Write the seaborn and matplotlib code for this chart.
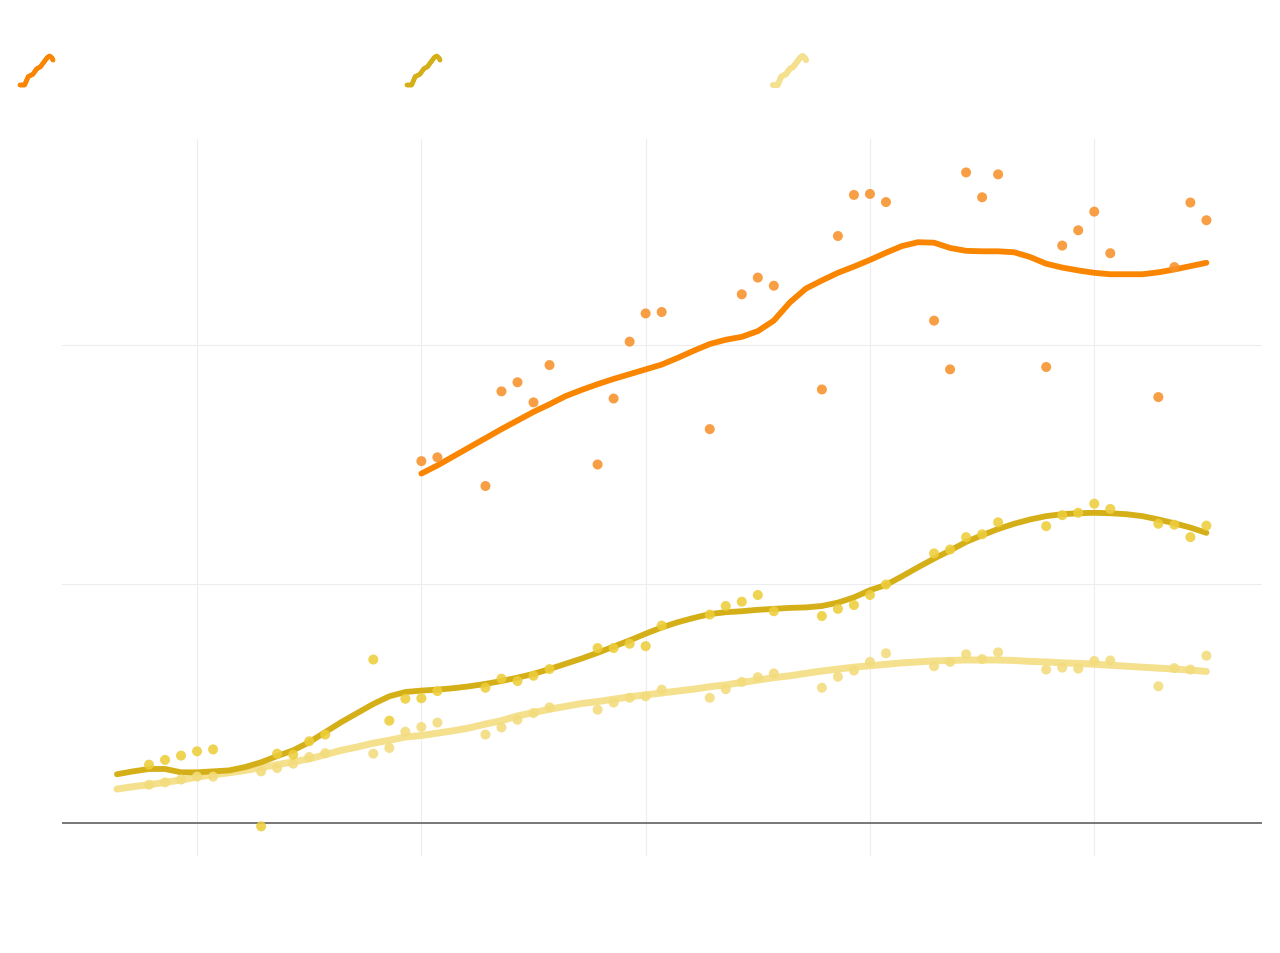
import numpy as np
import pandas as pd
import matplotlib
matplotlib.use("Agg")
import matplotlib.pyplot as plt
import seaborn as sns
from matplotlib.lines import Line2D
from matplotlib.legend_handler import HandlerBase

nan = np.nan

# ---- data (day index, daily; weekends missing for point series) ----
days = list(range(69))

orange_points = [nan] * 19 + [
    75.6, 76.4, nan, nan, 70.4, 90.2, 92.1, 87.9, 95.7, nan, nan,
    74.9, 88.7, 100.6, 106.5, 106.8, nan, nan, 82.3, nan, 110.5, 114.0, 112.3,
    nan, nan, 90.6, 122.7, 131.3, 131.5, 129.8, nan, nan, 105.0, 94.8, 136.0,
    130.8, 135.6, nan, nan, 95.3, 120.7, 123.9, 127.8, 119.1, nan, nan, 89.0,
    116.2, 129.7, 126.0]

gold_points = [
    nan, nan, 12.1, 13.1, 14.0, 14.9, 15.3, nan, nan, -0.8, 14.4, 14.2, 17.0,
    18.4, nan, nan, 34.1, 21.3, 25.9, 26.0, 27.5, nan, nan, 28.2, 30.1, 29.6,
    30.7, 32.1, nan, nan, 36.5, 36.5, 37.4, 36.9, 41.2, nan, nan, 43.5, 45.3,
    46.2, 47.6, 44.2, nan, nan, 43.2, 44.7, 45.5, 47.6, 49.8, nan, nan, 56.3,
    57.1, 59.7, 60.3, 62.8, nan, nan, 62.0, 64.3, 64.8, 66.7, 65.6, nan, nan,
    62.5, 62.3, 59.7, 62.1]

light_points = [
    nan, nan, 7.9, 8.4, 9.0, 9.6, 9.6, nan, nan, 10.7, 11.4, 12.3, 13.7, 14.5,
    nan, nan, 14.4, 15.6, 19.0, 20.0, 20.9, nan, nan, 18.4, 19.9, 21.5, 22.9,
    24.1, nan, nan, 23.6, 25.1, 26.1, 26.4, 27.8, nan, nan, 26.1, 27.9, 29.4,
    30.4, 31.2, nan, nan, 28.2, 30.5, 31.8, 33.6, 35.4, nan, nan, 32.7, 33.6,
    35.2, 34.2, 35.6, nan, nan, 32.0, 32.4, 32.2, 33.8, 33.9, nan, nan, 28.5,
    32.3, 32.0, 34.9]

orange_trend = [nan] * 19 + [
    73.0, 74.7, 76.6, 78.5, 80.4, 82.3, 84.1, 85.9, 87.5, 89.2, 90.5, 91.7,
    92.8, 93.8, 94.8, 95.8, 97.2, 98.7, 100.1, 101.0, 101.6, 102.8, 105.0,
    108.8, 111.7, 113.4, 115.0, 116.3, 117.7, 119.2, 120.6, 121.4, 121.3,
    120.2, 119.6, 119.5, 119.5, 119.3, 118.3, 116.9, 116.1, 115.5, 115.0,
    114.7, 114.7, 114.7, 115.1, 115.7, 116.4, 117.1]

gold_trend = [
    10.1, 10.7, 11.2, 11.2, 10.5, 10.5, 10.7, 10.9, 11.6, 12.6, 13.9, 15.1,
    16.8, 18.9, 21.0, 22.9, 24.8, 26.4, 27.3, 27.6, 27.8, 28.1, 28.5, 29.0,
    29.6, 30.3, 31.1, 32.1, 33.2, 34.3, 35.5, 36.8, 38.1, 39.5, 40.8, 41.9,
    42.8, 43.6, 44.0, 44.2, 44.5, 44.7, 44.9, 45.0, 45.3, 46.0, 47.1, 48.6,
    49.7, 51.5, 53.4, 55.2, 56.9, 58.7, 60.1, 61.4, 62.5, 63.4, 64.1, 64.5,
    64.7, 64.8, 64.7, 64.5, 64.1, 63.4, 62.6, 61.7, 60.6]

light_trend = [
    7.0, 7.5, 7.9, 8.4, 8.9, 9.5, 10.0, 10.4, 10.9, 11.5, 12.1, 12.7, 13.3,
    14.2, 15.1, 15.8, 16.6, 17.2, 17.9, 18.2, 18.7, 19.2, 19.8, 20.6, 21.3,
    22.3, 23.0, 23.7, 24.3, 24.9, 25.3, 25.8, 26.3, 26.7, 27.1, 27.5, 27.9,
    28.4, 28.8, 29.3, 29.8, 30.3, 30.7, 31.2, 31.7, 32.1, 32.5, 32.8, 33.1,
    33.4, 33.6, 33.8, 33.9, 34.0, 34.0, 34.0, 33.9, 33.7, 33.6, 33.4, 33.3,
    33.1, 32.9, 32.7, 32.5, 32.3, 32.1, 31.9, 31.6]

x_grid = [5, 19, 33, 47, 61]
y_grid = [0, 50, 100]

# ---- styling ----
sns.set_theme(style="white")
W, H = 1280, 954
fig = plt.figure(figsize=(W / 100, H / 100), dpi=100)
fig.patch.set_facecolor("white")
ax = fig.add_axes([62 / W, 97.5 / H, 1200 / W, 717 / H])

df = pd.DataFrame({
    "day": days,
    "orange_points": orange_points, "gold_points": gold_points,
    "light_points": light_points, "orange_trend": orange_trend,
    "gold_trend": gold_trend, "light_trend": light_trend,
})

series = [
    ("light", "#F5E08E", "#F3DC7C", 5.0, 3.0),
    ("gold", "#D4AF18", "#EDCD3A", 4.2, 3.1),
    ("orange", "#F98500", "#F8922C", 4.2, 3.2),
]

for name, lc, pc, lw, z in series:
    sns.lineplot(data=df, x="day", y=f"{name}_trend", color=lc, lw=lw, ax=ax,
                 zorder=z, solid_capstyle="round")
for name, lc, pc, lw, z in series:
    sns.scatterplot(data=df, x="day", y=f"{name}_points", color=pc, s=52,
                    edgecolor="none", alpha=0.88, ax=ax, zorder=4)

ax.axhline(0, color="#555555", lw=1.1, zorder=1.5)

ax.set_xlim(-3.43, 71.47)
ax.set_ylim(-6.9, 143.1)
ax.set_xticks(x_grid)
ax.set_yticks(y_grid)
ax.set_xticklabels([])
ax.set_yticklabels([])
ax.tick_params(length=0)
ax.set_xlabel("")
ax.set_ylabel("")
ax.grid(True, color="#EDEDED", lw=0.8)
ax.set_axisbelow(True)
for s in ax.spines.values():
    s.set_visible(False)

# ---- legend with squiggle icons ----
SQ_X = [0.0, 0.14, 0.25, 0.39, 0.51, 0.62, 0.71, 0.83, 0.90, 0.97, 1.0]
SQ_Y = [0.0, 0.0, 0.29, 0.37, 0.56, 0.63, 0.77, 0.95, 1.0, 0.93, 0.86]


class SquiggleHandler(HandlerBase):
    def create_artists(self, legend, orig_handle, xdescent, ydescent,
                       width, height, fontsize, trans):
        xs = -xdescent + np.array(SQ_X) * width
        ys = -ydescent + np.array(SQ_Y) * height
        ln = Line2D(xs, ys, color=orig_handle.get_color(),
                    lw=orig_handle.get_linewidth(),
                    solid_capstyle="round", solid_joinstyle="round")
        ln.set_transform(trans)
        return [ln]


legend_pos = {"orange": 20, "gold": 407, "light": 773}
for name, lc, pc, lw, z in series:
    h = Line2D([], [], color=lc, lw=lw - 0.9)
    leg = fig.legend([h], [""], loc="upper left",
                     bbox_to_anchor=(legend_pos[name] / W, 1 - 57 / H),
                     bbox_transform=fig.transFigure, frameon=False,
                     fontsize=12, handlelength=1.98, handleheight=2.3,
                     handletextpad=0, borderpad=0, borderaxespad=0,
                     handler_map={Line2D: SquiggleHandler()})
    fig.add_artist(leg)

fig.savefig("out.png", dpi=100, facecolor="white")
